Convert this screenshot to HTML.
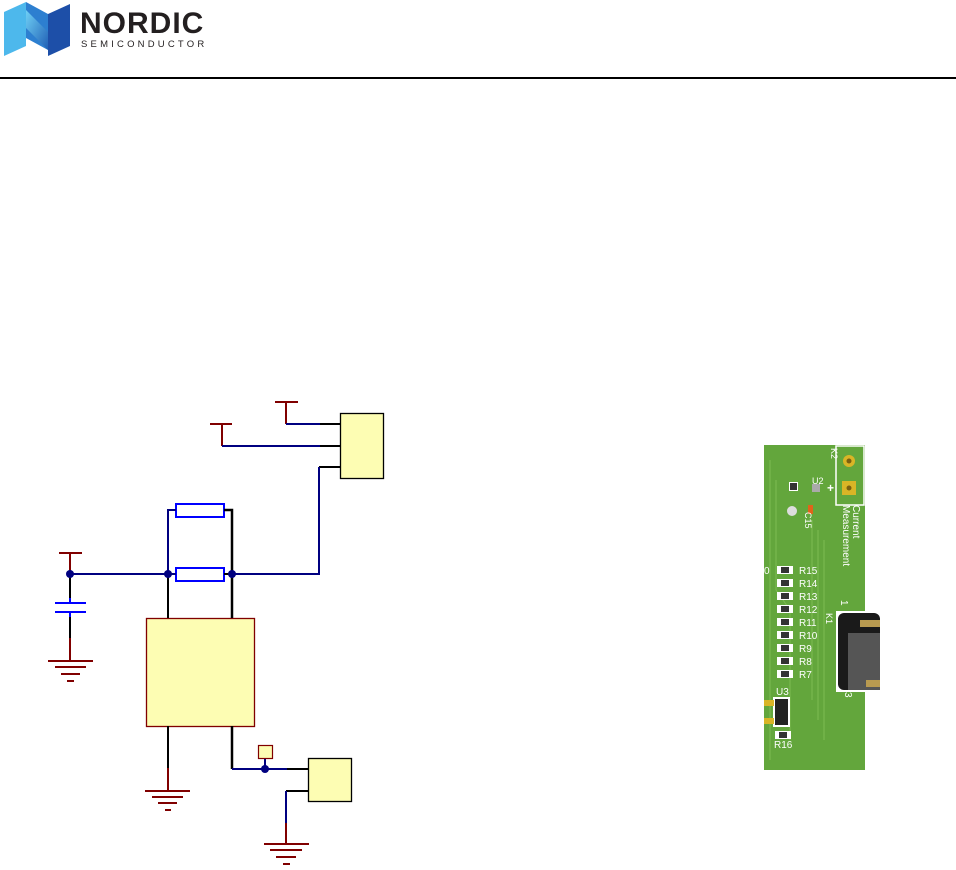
<!DOCTYPE html>
<html><head><meta charset="utf-8"><style>
html,body{margin:0;padding:0;background:#fff;width:956px;height:870px;overflow:hidden}
svg{display:block}
</style></head><body>
<svg width="956" height="870" viewBox="0 0 956 870" xmlns="http://www.w3.org/2000/svg" font-family="Liberation Sans, sans-serif">
<defs>
<linearGradient id="g1" x1="0" y1="0" x2="1" y2="1"><stop offset="0" stop-color="#6fd0f5"/><stop offset="1" stop-color="#1f5fb5"/></linearGradient>
</defs>
<polygon points="4,12 26,2 26,46 4,56" fill="#4db8ec"/>
<polygon points="26,2 48,14 48,50 26,38" fill="#2d7fd0"/>
<polygon points="48,14 70,4 70,46 48,56" fill="#1d4fa8"/>
<polygon points="26,10 48,32 48,50 26,28" fill="url(#g1)"/>
<text x="80" y="33" font-size="30" font-weight="bold" fill="#231f20" letter-spacing="1">NORDIC</text>
<text x="81" y="47" font-size="9.5" fill="#231f20" letter-spacing="3.2">SEMICONDUCTOR</text>
<rect x="0" y="77" width="956" height="2" fill="#000"/>

<g fill="none" stroke-width="2">
<rect x="340.5" y="413.5" width="43" height="65" fill="#fdfdb3" stroke="#000" stroke-width="1.3"/>
<path d="M275 402H298M286 402V424" stroke="#800000"/>
<path d="M286 424H320" stroke="#000080"/><path d="M320 424H340" stroke="#000"/>
<path d="M210 424H232M222 424V446" stroke="#800000"/>
<path d="M222 446H320" stroke="#000080"/><path d="M320 446H340" stroke="#000"/>
<path d="M340 467H319" stroke="#000"/>
<path d="M319 467V574H232" stroke="#000080"/>
<rect x="176" y="504" width="48" height="13" stroke="#0000ff" fill="#fff"/>
<rect x="176" y="568" width="48" height="13" stroke="#0000ff" fill="#fff"/>
<path d="M176 510H168V574" stroke="#000080"/>
<path d="M224 510H232V574" stroke="#000" stroke-width="2.5"/>
<path d="M70 574H176" stroke="#000080"/>
<path d="M224 574H232" stroke="#000"/>
<path d="M59 553H82M70 553V574" stroke="#800000"/>
<path d="M70 574V598" stroke="#000"/>
<path d="M70 598V603M55 603H86M55 612H86M70 612V617" stroke="#0000ff"/>
<path d="M70 617V638" stroke="#000"/>
<path d="M70 638V661M48 661H93M55 667H86M61 674H80M67 681H74" stroke="#800000"/>
<rect x="146.5" y="618.5" width="108" height="108" fill="#fdfdb3" stroke="#800000" stroke-width="1.3"/>
<path d="M168 574V618" stroke="#000"/>
<path d="M232 574V618" stroke="#000" stroke-width="2.5"/>
<path d="M168 726V768" stroke="#000"/>
<path d="M168 768V791M145 791H190M152 797H183M158 803H177M165 810H171" stroke="#800000"/>
<path d="M232 726V769" stroke="#000" stroke-width="2.5"/>
<path d="M232 769H287M265 758V769" stroke="#000080"/>
<path d="M287 769H309" stroke="#000"/>
<rect x="258.5" y="745.5" width="14" height="13" fill="#fdfdb3" stroke="#800000" stroke-width="1.2"/>
<rect x="308.5" y="758.5" width="43" height="43" fill="#fdfdb3" stroke="#000" stroke-width="1.3"/>
<path d="M308 791H286" stroke="#000"/>
<path d="M286 791V823" stroke="#000080"/>
<path d="M286 823V844M264 844H309M270 850H302M276 857H296M283 864H290" stroke="#800000"/>
</g>
<g fill="#000080">
<circle cx="70" cy="574" r="4"/><circle cx="168" cy="574" r="4"/><circle cx="232" cy="574" r="4"/><circle cx="265" cy="769" r="4"/>
</g>

<rect x="764" y="445" width="101" height="325" fill="#63a63c"/>
<g stroke="#7cbc52" stroke-width="1" fill="none">
<path d="M770 460V760M776 480V590L790 610V740M812 520V700M818 530V720M824 540V740"/>
</g>
<rect x="836" y="446" width="28" height="59" fill="none" stroke="#fff" stroke-width="1.5"/>
<circle cx="849" cy="461" r="6" fill="#d9b526"/><circle cx="849" cy="461" r="2.5" fill="#7a6010"/>
<rect x="842" y="481" width="14" height="14" fill="#d9b526"/><circle cx="849" cy="488" r="2.5" fill="#7a6010"/>
<text x="827" y="492" font-size="12" fill="#fff" font-weight="bold">+</text>
<rect x="789" y="482" width="9" height="9" fill="#fff"/><rect x="790" y="483" width="7" height="7" fill="#333"/>
<rect x="812" y="484" width="8" height="8" fill="#aaa"/>
<rect x="808" y="505" width="5" height="9" fill="#e0641a"/>
<circle cx="792" cy="511" r="5" fill="#ddd"/>
<text x="0" y="0" font-size="10" fill="#fff" transform="translate(843,505) rotate(90)">Measurement</text>
<text x="0" y="0" font-size="10" fill="#fff" transform="translate(853,505) rotate(90)">Current</text>
<text x="0" y="0" font-size="9" fill="#fff" transform="translate(805,512) rotate(90)">C15</text>
<text x="0" y="0" font-size="9" fill="#fff" transform="translate(831,448) rotate(90)">K2</text>
<text x="812" y="484" font-size="9" fill="#fff">U2</text>
<g fill="#fff" font-size="10">
<text x="799" y="574">R15</text><text x="799" y="587">R14</text><text x="799" y="600">R13</text><text x="799" y="613">R12</text><text x="799" y="626">R11</text><text x="799" y="639">R10</text><text x="799" y="652">R9</text><text x="799" y="665">R8</text><text x="799" y="678">R7</text>
<text x="764" y="574">0</text>
</g>
<g fill="#fff">
<rect x="777" y="566" width="16" height="8"/><rect x="777" y="579" width="16" height="8"/><rect x="777" y="592" width="16" height="8"/><rect x="777" y="605" width="16" height="8"/><rect x="777" y="618" width="16" height="8"/><rect x="777" y="631" width="16" height="8"/><rect x="777" y="644" width="16" height="8"/><rect x="777" y="657" width="16" height="8"/><rect x="777" y="670" width="16" height="8"/>
</g>
<g fill="#333">
<rect x="781" y="567" width="8" height="6"/><rect x="781" y="580" width="8" height="6"/><rect x="781" y="593" width="8" height="6"/><rect x="781" y="606" width="8" height="6"/><rect x="781" y="619" width="8" height="6"/><rect x="781" y="632" width="8" height="6"/><rect x="781" y="645" width="8" height="6"/><rect x="781" y="658" width="8" height="6"/><rect x="781" y="671" width="8" height="6"/>
</g>
<rect x="836" y="611" width="44" height="81" fill="#fff"/>
<rect x="838" y="613" width="42" height="77" rx="6" fill="#1a1a1a"/>
<rect x="848" y="633" width="32" height="57" fill="#555"/>
<rect x="860" y="620" width="20" height="7" fill="#b89a50"/><rect x="866" y="680" width="14" height="7" fill="#b89a50"/>
<text x="0" y="0" font-size="10" fill="#fff" transform="translate(841,600) rotate(90)">1</text>
<text x="0" y="0" font-size="10" fill="#fff" transform="translate(845,692) rotate(90)">3</text>
<text x="0" y="0" font-size="9" fill="#fff" transform="translate(826,613) rotate(90)">K1</text>
<text x="776" y="695" font-size="10" fill="#fff">U3</text>
<rect x="773" y="697" width="17" height="30" fill="#fff"/><rect x="775" y="699" width="13" height="26" fill="#222"/>
<rect x="764" y="700" width="10" height="6" fill="#d9b526"/><rect x="764" y="718" width="10" height="6" fill="#d9b526"/>
<rect x="775" y="731" width="16" height="8" fill="#fff"/><rect x="779" y="732" width="8" height="6" fill="#333"/>
<text x="774" y="748" font-size="10" fill="#fff">R16</text>
</svg>
</body></html>
